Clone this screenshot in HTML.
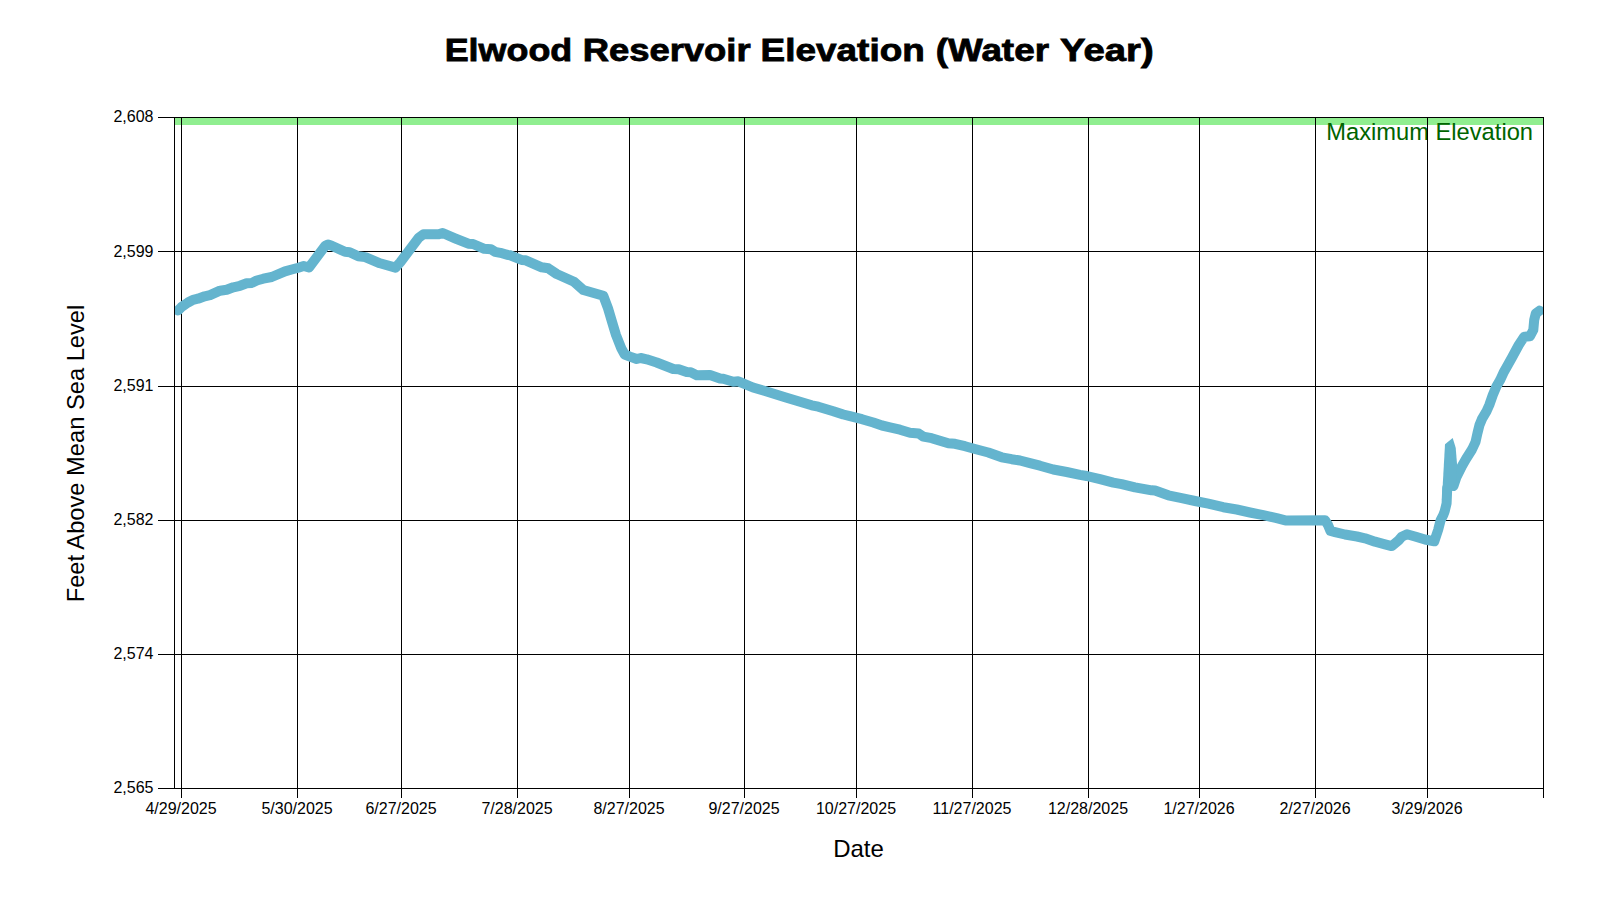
<!DOCTYPE html><html><head><meta charset="utf-8"><title>Elwood Reservoir Elevation</title><style>html,body{margin:0;padding:0;background:#fff;width:1600px;height:900px;overflow:hidden}svg{display:block}text{font-family:"Liberation Sans",sans-serif}</style></head><body>
<svg width="1600" height="900" viewBox="0 0 1600 900">
<rect x="0" y="0" width="1600" height="900" fill="#fff"/>
<g font-size="30.8" font-weight="bold" fill="#000" stroke="#000" stroke-width="0.8"><text transform="translate(444.67 0) scale(1.1660 1)" x="0" y="61.4">Elwood</text><text transform="translate(582.63 0) scale(1.1829 1)" x="0" y="61.4">Reservoir</text><text transform="translate(760.60 0) scale(1.1992 1)" x="0" y="61.4">Elevation</text><text transform="translate(935.70 0) scale(1.1968 1)" x="0" y="61.4">(Water</text><text transform="translate(1060.00 0) scale(1.2432 1)" x="0" y="61.4">Year)</text></g>
<rect x="175" y="118" width="1368" height="7" fill="#90ee90"/>
<text x="1533" y="140" text-anchor="end" font-size="23.7" fill="#006400">Maximum Elevation</text>
<path d="M181.5 117V798M297.5 117V798M401.5 117V798M517.5 117V798M629.5 117V798M744.5 117V798M856.5 117V798M972.5 117V798M1088.5 117V798M1199.5 117V798M1315.5 117V798M1427.5 117V798M158 117.5H1543M158 251.5H1543M158 386.5H1543M158 520.5H1543M158 654.5H1543M158 788.5H1543M174.5 117V788M1543.5 117V798" stroke="#000" stroke-width="1" fill="none" shape-rendering="crispEdges"/>
<defs><clipPath id="pc"><rect x="175" y="118" width="1368" height="670"/></clipPath></defs>
<g clip-path="url(#pc)" fill="none" stroke="#64b4ce" stroke-width="10" stroke-linejoin="round" stroke-linecap="round">
<path d="M178 310.5 L181.3 307.2 L188 302.5 L193 299.8 L198 298.7 L204.7 296.3 L210 295.1 L220 290.7 L226.7 289.8 L233.3 287.3 L240 285.8 L246.7 283.3 L252 282.9 L256.7 280.5 L263.3 278.7 L271.7 277 L285 271.3 L291.7 269.5 L298.3 267.7 L303.7 266 L309 267.5 L325.3 245.7 L328 244.4 L331.7 245.7 L345 251.8 L349.7 252.2 L358.3 256.2 L365.3 257.1 L380 263.3 L395.5 267.6 L400.5 262 L418.7 237.7 L423.5 234.2 L438.7 234.3 L442.7 233 L455 238.3 L468.3 243.7 L473 244 L484.3 248.8 L491 249.3 L495 251.8 L500.3 252.8 L507 254.8 L510.3 255.3 L521.7 260 L525.7 260.3 L541.7 267.3 L548.3 268.3 L556.7 274 L574 281.7 L583.3 290 L603.3 295.7 L608 308.3 L612 321.7 L616 335 L621.3 348.3 L624.7 354.5 L630 356.6 L636.7 359 L640.7 358 L646.7 359.3 L656.7 362.5 L673.3 369 L678.7 369.3 L686.7 372 L690.7 372.3 L696.7 375.2 L710 375 L720 378.5 L723.3 378.8 L733.3 381.7 L738.3 381.3 L753 387.5 L765 391 L785 397.2 L795 400.2 L811.7 405.3 L818.3 406.7 L833.3 411.2 L843.3 414.5 L850 416.1 L862 419.2 L873.3 422.5 L882 425.5 L890 427.3 L900 429.7 L910 432.7 L918.7 433.5 L923.3 436.7 L931.7 438.2 L938.3 440.2 L948.3 443.2 L955 443.8 L965 446.2 L975 449 L988.3 452.5 L1001.7 457.3 L1011.7 459.2 L1020 460.5 L1030 463.2 L1040 465.7 L1053.3 469.5 L1066.7 472 L1080 474.8 L1086.7 476 L1100 479.2 L1113.3 482.7 L1121.7 484.2 L1135 487.3 L1151.7 490.3 L1155 490.5 L1168.3 495.3 L1181.7 498.2 L1195 501 L1208.3 503.7 L1223.3 507.2 L1236.7 509.5 L1250 512.5 L1263.3 515.2 L1276.7 518.2 L1285.3 520.4 L1325 520.2 L1328 525 L1330.5 531 L1335 532.1 L1345 534.5 L1357 536.5 L1365 538.3 L1375 541.7 L1385 544.3 L1391.7 546.1 L1398.3 540.7 L1401.7 536.7 L1407 534.3 L1415 536.5 L1425 539.5 L1434.3 541.3 L1438.1 530 L1440.6 520.2 L1443.3 514.9 L1444.8 510.9 L1446.6 503.3 L1447.1 491.3 L1447.2 488"/>
<path d="M1453.5 486 L1456.5 477 L1462 466 L1466 459 L1472 449.5 L1475.5 442 L1477.5 433 L1479.5 425 L1482.3 418.3 L1486.3 411.7 L1489.3 405 L1492.8 395 L1496.5 386.3 L1500 380.3 L1504 371.7 L1507.8 365 L1512 357.5 L1518.75 345 L1524.2 336.7 L1530 336.25 L1533.3 330 L1534.2 320 L1535.8 313.5 L1539.6 310.6"/>
<path d="M1441.9 500 L1445 444.3 L1452.7 438 L1455.7 447.7 L1457.1 465 L1456 482 L1451 491Z" fill="#64b4ce" stroke="none"/>
</g>
<text x="153.5" y="122" text-anchor="end" font-size="16" fill="#000">2,608</text>
<text x="153.5" y="257" text-anchor="end" font-size="16" fill="#000">2,599</text>
<text x="153.5" y="391" text-anchor="end" font-size="16" fill="#000">2,591</text>
<text x="153.5" y="525" text-anchor="end" font-size="16" fill="#000">2,582</text>
<text x="153.5" y="659" text-anchor="end" font-size="16" fill="#000">2,574</text>
<text x="153.5" y="793" text-anchor="end" font-size="16" fill="#000">2,565</text>
<text x="181" y="813.5" text-anchor="middle" font-size="16" fill="#000">4/29/2025</text>
<text x="297" y="813.5" text-anchor="middle" font-size="16" fill="#000">5/30/2025</text>
<text x="401" y="813.5" text-anchor="middle" font-size="16" fill="#000">6/27/2025</text>
<text x="517" y="813.5" text-anchor="middle" font-size="16" fill="#000">7/28/2025</text>
<text x="629" y="813.5" text-anchor="middle" font-size="16" fill="#000">8/27/2025</text>
<text x="744" y="813.5" text-anchor="middle" font-size="16" fill="#000">9/27/2025</text>
<text x="856" y="813.5" text-anchor="middle" font-size="16" fill="#000">10/27/2025</text>
<text x="972" y="813.5" text-anchor="middle" font-size="16" fill="#000">11/27/2025</text>
<text x="1088" y="813.5" text-anchor="middle" font-size="16" fill="#000">12/28/2025</text>
<text x="1199" y="813.5" text-anchor="middle" font-size="16" fill="#000">1/27/2026</text>
<text x="1315" y="813.5" text-anchor="middle" font-size="16" fill="#000">2/27/2026</text>
<text x="1427" y="813.5" text-anchor="middle" font-size="16" fill="#000">3/29/2026</text>
<text x="858.5" y="857" text-anchor="middle" font-size="24" fill="#000">Date</text>
<text transform="translate(84 453.5) rotate(-90)" x="0" y="0" text-anchor="middle" font-size="23.7" fill="#000">Feet Above Mean Sea Level</text>
</svg></body></html>
